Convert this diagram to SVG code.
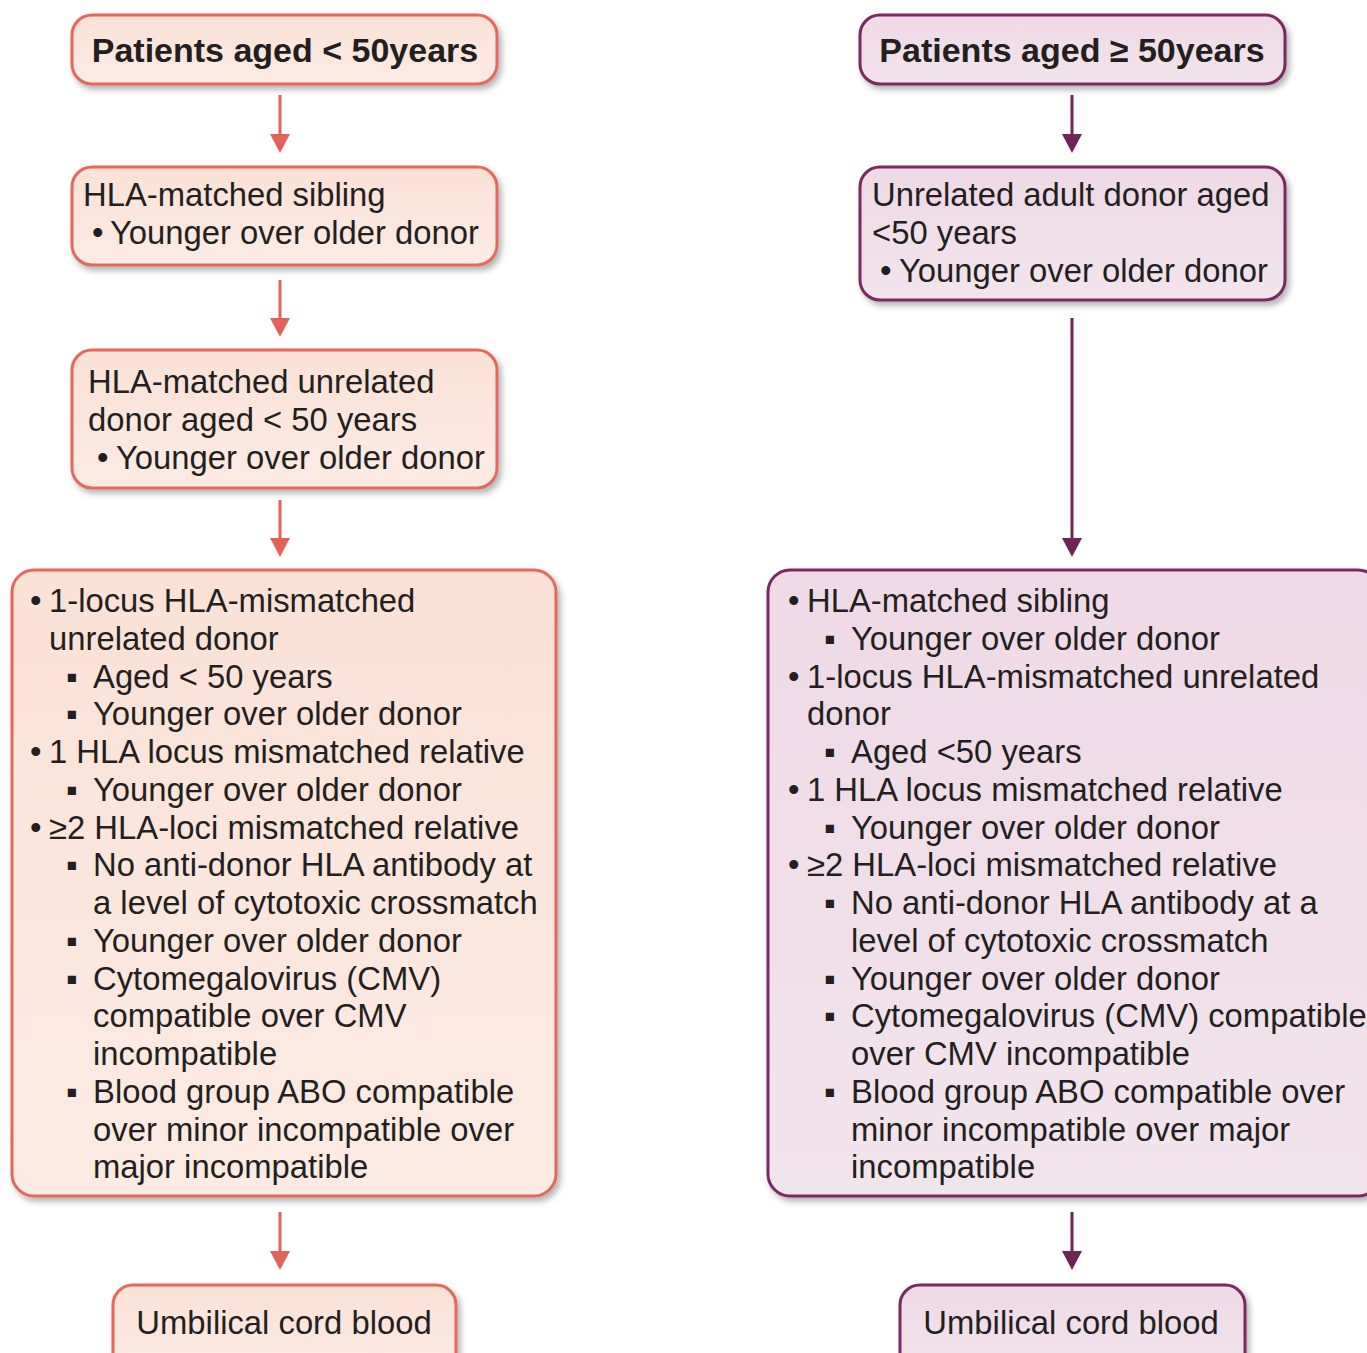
<svg xmlns="http://www.w3.org/2000/svg" width="1367" height="1353" viewBox="0 0 1367 1353">
<defs>
<linearGradient id="gL" x1="0" y1="0" x2="0" y2="1"><stop offset="0" stop-color="#fbe1d6"/><stop offset="1" stop-color="#fcebe4"/></linearGradient>
<linearGradient id="gR" x1="0" y1="0" x2="0" y2="1"><stop offset="0" stop-color="#efd9e6"/><stop offset="1" stop-color="#f2e4ec"/></linearGradient>
<filter id="sh" x="-10%" y="-10%" width="125%" height="130%"><feDropShadow dx="3" dy="4" stdDeviation="3" flood-color="#000" flood-opacity="0.3"/></filter>
</defs>
<style>
.bl{fill:url(#gL);stroke:#e4675b;stroke-width:3;filter:url(#sh)}
.br{fill:url(#gR);stroke:#7a2a60;stroke-width:3;filter:url(#sh)}
text{font-family:"Liberation Sans",Arial,sans-serif;font-size:32.8px;fill:#231f20}
.t{font-weight:bold;font-size:34px}
.cL{stroke:#e2625a;stroke-width:3;fill:none}
.cR{stroke:#6e2456;stroke-width:3;fill:none}
.hL{fill:#e2625a}
.hR{fill:#6e2456}
</style>
<g id="connectors">
<line class="cL" x1="280" y1="95" x2="280" y2="134"/><path class="hL" d="M270,134 L290,134 L280,153 Z"/>
<line class="cL" x1="280" y1="280" x2="280" y2="318"/><path class="hL" d="M270,318 L290,318 L280,337 Z"/>
<line class="cL" x1="280" y1="500" x2="280" y2="538"/><path class="hL" d="M270,538 L290,538 L280,557 Z"/>
<line class="cL" x1="280" y1="1212" x2="280" y2="1251"/><path class="hL" d="M270,1251 L290,1251 L280,1270 Z"/>
<line class="cR" x1="1072" y1="95" x2="1072" y2="134"/><path class="hR" d="M1062,134 L1082,134 L1072,153 Z"/>
<line class="cR" x1="1072" y1="318" x2="1072" y2="538"/><path class="hR" d="M1062,538 L1082,538 L1072,557 Z"/>
<line class="cR" x1="1072" y1="1212" x2="1072" y2="1251"/><path class="hR" d="M1062,1251 L1082,1251 L1072,1270 Z"/>
</g>
<g id="nL1"><rect class="bl" x="72" y="15" width="425" height="69" rx="20"/><text class="t" x="285" y="62" text-anchor="middle">Patients aged &lt; 50years</text></g>
<g id="nL2"><rect class="bl" x="72" y="167" width="425" height="98" rx="20"/>
<text x="83" y="206">HLA-matched sibling</text>
<text x="92" y="244">•<tspan x="110">Younger over older donor</tspan></text></g>
<g id="nL3"><rect class="bl" x="72" y="350" width="425" height="138" rx="20"/>
<text x="88" y="393">HLA-matched unrelated</text>
<text x="88" y="431">donor aged &lt; 50 years</text>
<text x="97" y="469">•<tspan x="116">Younger over older donor</tspan></text></g>
<g id="nL4"><rect class="bl" x="12" y="570" width="544" height="626" rx="22"/>
<text x="30" y="612">•<tspan x="49">1-locus HLA-mismatched</tspan></text>
<text x="49" y="650">unrelated donor</text>
<text x="66" y="688">▪<tspan x="93">Aged &lt; 50 years</tspan></text>
<text x="66" y="725">▪<tspan x="93">Younger over older donor</tspan></text>
<text x="30" y="763">•<tspan x="49">1 HLA locus mismatched relative</tspan></text>
<text x="66" y="801">▪<tspan x="93">Younger over older donor</tspan></text>
<text x="30" y="839">•<tspan x="49">≥2 HLA-loci mismatched relative</tspan></text>
<text x="66" y="876">▪<tspan x="93">No anti-donor HLA antibody at</tspan></text>
<text x="93" y="914">a level of cytotoxic crossmatch</text>
<text x="66" y="952">▪<tspan x="93">Younger over older donor</tspan></text>
<text x="66" y="990">▪<tspan x="93">Cytomegalovirus (CMV)</tspan></text>
<text x="93" y="1027">compatible over CMV</text>
<text x="93" y="1065">incompatible</text>
<text x="66" y="1103">▪<tspan x="93">Blood group ABO compatible</tspan></text>
<text x="93" y="1141">over minor incompatible over</text>
<text x="93" y="1178">major incompatible</text></g>
<g id="nL5"><rect class="bl" x="113" y="1285" width="343" height="90" rx="20"/><text x="284" y="1334" text-anchor="middle">Umbilical cord blood</text></g>
<g id="nR1"><rect class="br" x="860" y="15" width="425" height="69" rx="20"/><text class="t" x="1072" y="62" text-anchor="middle">Patients aged ≥ 50years</text></g>
<g id="nR2"><rect class="br" x="860" y="167" width="425" height="133" rx="20"/>
<text x="872" y="206">Unrelated adult donor aged</text>
<text x="872" y="244">&lt;50 years</text>
<text x="880" y="282">•<tspan x="899">Younger over older donor</tspan></text></g>
<g id="nR4"><rect class="br" x="768" y="570" width="612" height="626" rx="22"/>
<text x="788" y="612">•<tspan x="807">HLA-matched sibling</tspan></text>
<text x="824" y="650">▪<tspan x="851">Younger over older donor</tspan></text>
<text x="788" y="688">•<tspan x="807">1-locus HLA-mismatched unrelated</tspan></text>
<text x="807" y="725">donor</text>
<text x="824" y="763">▪<tspan x="851">Aged &lt;50 years</tspan></text>
<text x="788" y="801">•<tspan x="807">1 HLA locus mismatched relative</tspan></text>
<text x="824" y="839">▪<tspan x="851">Younger over older donor</tspan></text>
<text x="788" y="876">•<tspan x="807">≥2 HLA-loci mismatched relative</tspan></text>
<text x="824" y="914">▪<tspan x="851">No anti-donor HLA antibody at a</tspan></text>
<text x="851" y="952">level of cytotoxic crossmatch</text>
<text x="824" y="990">▪<tspan x="851">Younger over older donor</tspan></text>
<text x="824" y="1027">▪<tspan x="851">Cytomegalovirus (CMV) compatible</tspan></text>
<text x="851" y="1065">over CMV incompatible</text>
<text x="824" y="1103">▪<tspan x="851">Blood group ABO compatible over</tspan></text>
<text x="851" y="1141">minor incompatible over major</text>
<text x="851" y="1178">incompatible</text></g>
<g id="nR5"><rect class="br" x="900" y="1285" width="345" height="90" rx="20"/><text x="1071" y="1334" text-anchor="middle">Umbilical cord blood</text></g>
</svg>
